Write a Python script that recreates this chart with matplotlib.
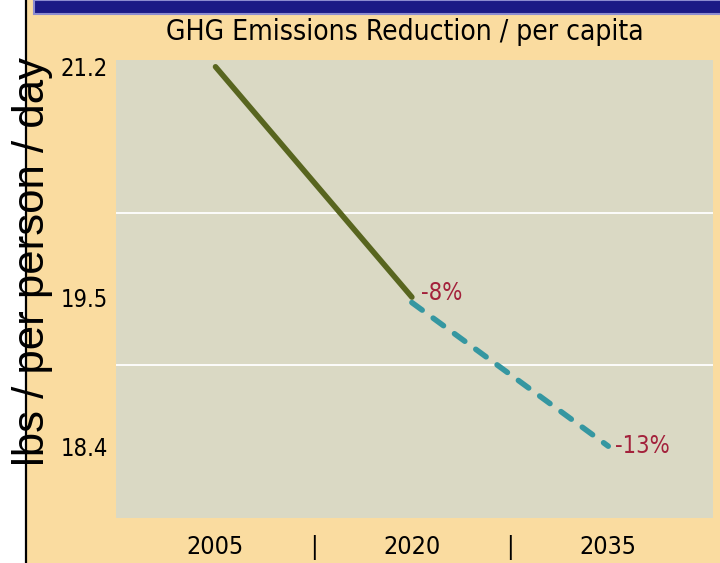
import matplotlib
matplotlib.use('Agg')
from matplotlib import pyplot as plt
from matplotlib.patches import Rectangle
from matplotlib.lines import Line2D

# data
years_actual = [2005, 2020]
values_actual = [21.2, 19.5]
years_target = [2020, 2035]
values_target = [19.5, 18.4]
change_labels = ['-8%', '-13%']
y_ticks = [18.4, 19.5, 21.2]
x_ticks = [2005, 2012.5, 2020, 2027.5, 2035]
x_tick_labels = ['2005', '|', '2020', '|', '2035']
title = 'GHG Emissions Reduction / per capita'
y_label = 'lbs / per person / day'

page_bg = '#FADCA0'
plot_bg = '#DAD9C4'
olive = '#58651F'
teal = '#3597A1'
crimson = '#A3213B'
narrow = dict(family='DejaVu Sans', stretch='condensed')

fig = plt.figure(figsize=(7.2, 5.63), dpi=100)
fig.patch.set_facecolor(page_bg)

# white strip + black rule on the left, navy banner on top
fig.add_artist(Rectangle((0, 0), 26 / 720, 1, transform=fig.transFigure,
                         facecolor='white', edgecolor='none'))
fig.add_artist(Line2D([26 / 720, 26 / 720], [0, 1], transform=fig.transFigure,
                      color='black', lw=1.6))
fig.add_artist(Rectangle((34 / 720, 1 - 14 / 563), 1, 14 / 563, transform=fig.transFigure,
                         facecolor='#1B1A86', edgecolor='#8C8CD0', lw=1.5))

ax = fig.add_axes([116 / 720, 45 / 563, 597 / 720, 458 / 563])
ax.set_facecolor(plot_bg)
for s in ax.spines.values():
    s.set_visible(False)

ax.plot(years_actual, values_actual, color=olive, lw=4.0, solid_capstyle='round')
ax.plot(years_target, [v - 0.04 for v in values_target[:1]] + values_target[1:],
        color=teal, lw=4.0, dashes=(2.3, 2.45), dash_capstyle='round')

ax.set_xlim(1997.4, 2043.0)
ax.set_ylim(17.87, 21.25)
lo, hi = ax.get_ylim()
for k in (1, 2):
    ax.axhline(lo + (hi - lo) * k / 3, color='white', lw=1.3, zorder=0.5)

ax.text(years_target[0] + 0.7, values_target[0] + 0.03, change_labels[0], color=crimson,
        fontsize=17, va='center', ha='left', **narrow)
ax.text(years_target[1] + 0.5, values_target[1], change_labels[1], color=crimson,
        fontsize=17, va='center', ha='left', **narrow)

ax.set_yticks(y_ticks)
ax.set_yticklabels([str(v) for v in y_ticks], fontsize=17, **narrow)
ax.set_xticks(x_ticks)
ax.set_xticklabels(x_tick_labels, fontsize=18, **narrow)
ax.tick_params(length=0, pad=6)
ax.tick_params(axis='x', pad=12)

t = fig.text(405 / 720, 1 - 32 / 563, title, ha='center', va='center', fontsize=24, **narrow)
# shrink the title until it spans about 480 px like the reference
fig.canvas.draw()
w = t.get_window_extent().width
t.set_fontsize(24 * min(1.3, 480 / w))

fig.text(33 / 720, 1 - 262 / 563, y_label, rotation=90, ha='center',
         va='center', fontsize=31.5, family=['Liberation Sans', 'DejaVu Sans'])

fig.savefig('out.png', dpi=100, facecolor=page_bg)
